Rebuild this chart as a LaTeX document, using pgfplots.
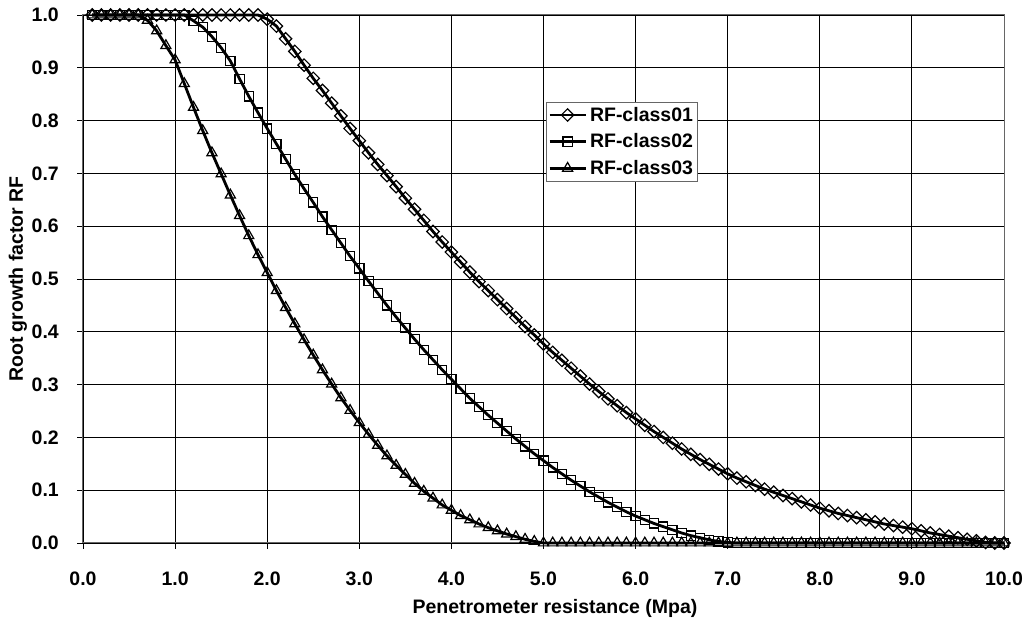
\documentclass[border=0pt]{standalone}
\usepackage{fontspec}
\setmainfont{Liberation Sans}
\usepackage{pgfplots}
\pgfplotsset{compat=1.18}
\usepackage{pgfplotstable}
\pgfplotstableread{
x c1 c2 c3
0.1 1 1 1
0.2 1 1 1
0.3 1 1 1
0.4 1 1 1
0.5 1 1 1
0.6 1 1 1
0.7 1 1 0.990
0.8 1 1 0.970
0.9 1 1 0.942
1.0 1 1 0.915
1.1 1 1.000 0.870
1.2 1 0.989 0.825
1.3 1 0.977 0.781
1.4 1 0.959 0.739
1.5 1 0.938 0.699
1.6 1 0.913 0.659
1.7 1 0.879 0.620
1.8 1 0.846 0.582
1.9 1 0.815 0.546
2.0 0.992 0.785 0.512
2.1 0.979 0.756 0.478
2.2 0.955 0.727 0.446
2.3 0.931 0.698 0.415
2.4 0.905 0.671 0.385
2.5 0.880 0.645 0.356
2.6 0.857 0.618 0.328
2.7 0.833 0.593 0.301
2.8 0.809 0.568 0.275
2.9 0.785 0.543 0.251
3.0 0.762 0.520 0.228
3.1 0.739 0.496 0.206
3.2 0.717 0.473 0.185
3.3 0.696 0.450 0.165
3.4 0.675 0.428 0.147
3.5 0.653 0.407 0.130
3.6 0.632 0.386 0.113
3.7 0.611 0.366 0.098
3.8 0.590 0.347 0.085
3.9 0.570 0.328 0.072
4.0 0.551 0.310 0.062
4.1 0.532 0.292 0.052
4.2 0.513 0.274 0.044
4.3 0.495 0.258 0.036
4.4 0.478 0.242 0.029
4.5 0.461 0.227 0.023
4.6 0.444 0.212 0.017
4.7 0.427 0.197 0.012
4.8 0.410 0.183 0.007
4.9 0.394 0.169 0.003
5.0 0.377 0.156 0
5.1 0.361 0.143 0
5.2 0.346 0.131 0
5.3 0.331 0.119 0
5.4 0.316 0.108 0
5.5 0.301 0.097 0
5.6 0.287 0.087 0
5.7 0.273 0.077 0
5.8 0.260 0.068 0
5.9 0.247 0.059 0
6.0 0.235 0.051 0
6.1 0.223 0.044 0
6.2 0.211 0.037 0
6.3 0.200 0.031 0
6.4 0.189 0.025 0
6.5 0.178 0.019 0
6.6 0.168 0.014 0
6.7 0.158 0.010 0
6.8 0.149 0.006 0
6.9 0.140 0.003 0
7.0 0.131 0.001 0
7.1 0.123 0 0
7.2 0.116 0 0
7.3 0.109 0 0
7.4 0.102 0 0
7.5 0.096 0 0
7.6 0.090 0 0
7.7 0.084 0 0
7.8 0.078 0 0
7.9 0.072 0 0
8.0 0.066 0 0
8.1 0.061 0 0
8.2 0.056 0 0
8.3 0.052 0 0
8.4 0.048 0 0
8.5 0.044 0 0
8.6 0.040 0 0
8.7 0.036 0 0
8.8 0.033 0 0
8.9 0.030 0 0
9.0 0.027 0 0
9.1 0.023 0 0
9.2 0.019 0 0
9.3 0.016 0 0
9.4 0.013 0 0
9.5 0.010 0 0
9.6 0.007 0 0
9.7 0.004 0 0
9.8 0.001 0 0
9.9 0 0 0
10.0 0 0 0
}\rfdata
\begin{document}
\begin{tikzpicture}
\begin{axis}[
  name=ax,
  scale only axis,
  width=921pt, height=528pt,
  xmin=0, xmax=10, ymin=0, ymax=1,
  xtick={0,1,2,3,4,5,6,7,8,9,10},
  ytick={0,0.1,0.2,0.3,0.4,0.5,0.6,0.7,0.8,0.9,1.0},
  grid=major,
  major grid style={black, line width=0.9pt},
  axis line style={gray!80!black, line width=1pt},
  tick align=outside, xtick pos=left, ytick pos=left,
  major tick length=6pt,
  tick style={black, line width=0.9pt},
  /pgf/number format/assume math mode=true,
  xticklabel style={font=\bfseries\fontsize{19.5}{22}\selectfont, anchor=base, inner sep=0pt, yshift=-37pt,
    /pgf/number format/.cd, fixed, fixed zerofill, precision=1},
  yticklabel style={font=\bfseries\fontsize{19.5}{22}\selectfont, anchor=east, inner sep=0pt, xshift=-18pt,
    /pgf/number format/.cd, fixed, fixed zerofill, precision=1},
  xlabel={Penetrometer resistance (Mpa)},
  xlabel style={at={(axis description cs:0.5125,-0.1326)}, anchor=base, inner sep=0pt, font=\bfseries\fontsize{19.5}{22}\selectfont},
  ylabel={Root growth factor RF},
  ylabel style={at={(axis description cs:-0.0706,0.5)}, anchor=center, inner sep=0pt, font=\bfseries\fontsize{19.5}{22}\selectfont},
  legend style={at={(axis description cs:0.5024,0.8358)}, anchor=north west, draw=gray!80!black, line width=1pt, fill=white,
    font=\bfseries\fontsize{19.5}{22}\selectfont, inner sep=2pt, row sep=5pt, nodes={inner sep=3pt}},
  legend cell align=left,
  legend image code/.code={\draw[mark repeat=2,mark phase=2,#1] plot coordinates {(0pt,0pt) (18pt,0pt) (36pt,0pt)};},
  clip=false,
]
\addplot[black, line width=2.8pt, mark=square, mark size=4.4pt, mark options={rotate=45, line width=1.2pt, fill=none, solid}] table[x=x,y=c1]{\rfdata};
\addlegendentry{RF-class01}
\addplot[black, line width=2.8pt, mark=square, mark size=4.6pt, mark options={line width=1.2pt, fill=none, solid}] table[x=x,y=c2]{\rfdata};
\addlegendentry{RF-class02}
\addplot[black, line width=2.8pt, mark=triangle, mark size=5.8pt, mark options={line width=1.2pt, fill=none, solid}] table[x=x,y=c3]{\rfdata};
\addlegendentry{RF-class03}
\end{axis}
\pgfresetboundingbox
\path ([shift={(-83pt,-78pt)}]ax.south west) rectangle ([shift={(19pt,15pt)}]ax.north east);
\end{tikzpicture}
\end{document}
